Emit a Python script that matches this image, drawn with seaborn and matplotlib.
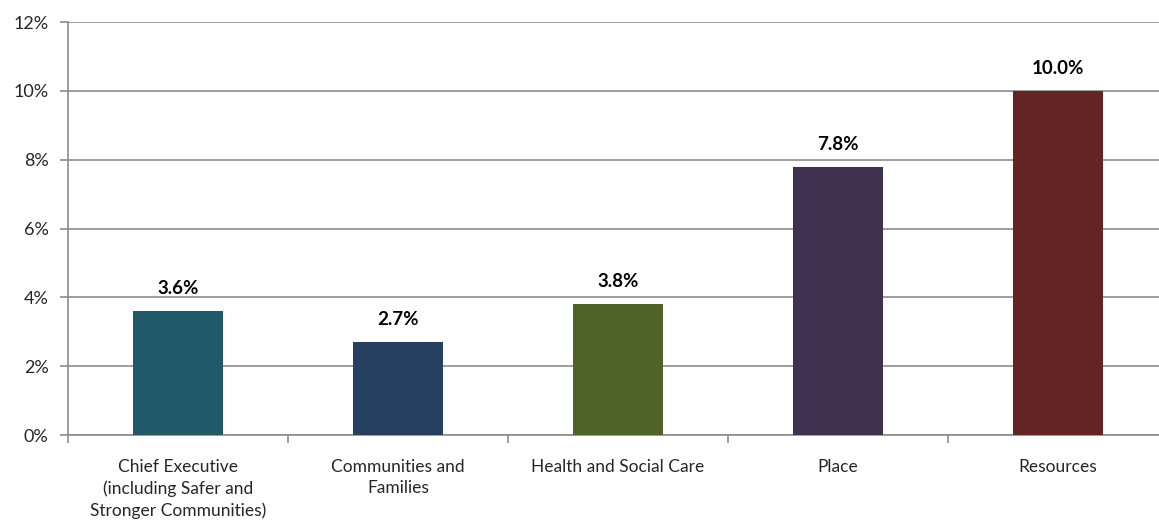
import matplotlib
matplotlib.use("Agg")
import matplotlib.pyplot as plt
import seaborn as sns
import pandas as pd

sns.set_style("white")
plt.rcParams['font.family'] = ['Lato', 'DejaVu Sans']

# Dados do gráfico
categorias = ['Chief Executive\n(including Safer and\nStronger Communities)',
              'Communities and\nFamilies',
              'Health and Social Care',
              'Place',
              'Resources']
valores = [3.6, 2.7, 3.8, 7.8, 10.0]
cores = ['#215968', '#254061', '#4F6228', '#403151', '#632523']
rotulos_y = ['0%', '2%', '4%', '6%', '8%', '10%', '12%']

df = pd.DataFrame({'categoria': categorias, 'valor': valores})

fig = plt.figure(figsize=(11.59, 5.23), dpi=100)
ax = fig.add_axes([68 / 1159, 88 / 523, 1100 / 1159, 413 / 523])

ax.yaxis.grid(True, color='#8c8c8c', linewidth=1.2, zorder=0)
ax.set_axisbelow(True)

sns.barplot(data=df, x='categoria', y='valor', hue='categoria', palette=cores,
            width=0.405, legend=False, ax=ax, saturation=1, zorder=3,
            linewidth=0, edgecolor='none')

for i, v in enumerate(valores):
    ax.text(i, v + 0.4, f'{v:.1f}%', ha='center', va='bottom',
            fontsize=13.5, fontweight='bold', color='black')

ax.set_ylim(0, 12)
ax.set_yticks(range(0, 13, 2))
ax.set_yticklabels(rotulos_y, fontsize=13)
ax.set_xlim(-0.5, 4.5)
ax.set_xticks([x - 0.5 for x in range(6)], minor=False)
ax.set_xticklabels([''] * 6)
ax.set_xticks(range(5), minor=True)
ax.set_xticklabels(categorias, minor=True, fontsize=12.5, linespacing=1.4)
ax.tick_params(axis='x', which='minor', length=0, pad=17)
ax.tick_params(axis='x', which='major', length=6, color='#8c8c8c', width=1.2, direction='out')
ax.tick_params(axis='y', length=6, color='#8c8c8c', width=1.2, direction='out', pad=8)
ax.tick_params(bottom=True, left=True)
ax.set_xlabel('')
ax.set_ylabel('')

for s in ['top', 'right']:
    ax.spines[s].set_visible(False)
for s in ['left', 'bottom']:
    ax.spines[s].set_color('#8c8c8c')
    ax.spines[s].set_linewidth(1.2)

fig.savefig('out.png', dpi=100)
